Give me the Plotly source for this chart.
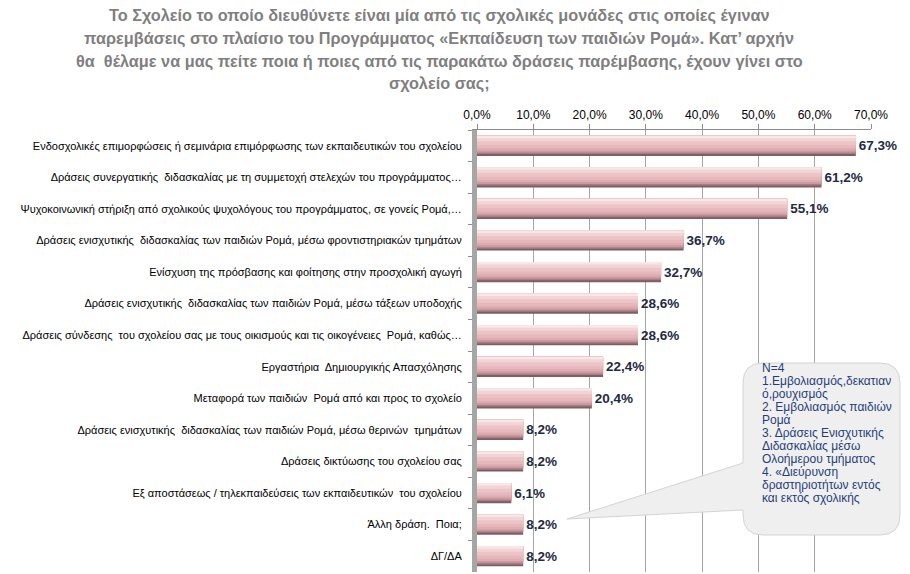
import plotly.graph_objects as go

categories = [
    "Ενδοσχολικές επιμορφώσεις ή σεμινάρια επιμόρφωσης των εκπαιδευτικών του σχολείου",
    "Δράσεις συνεργατικής  διδασκαλίας με τη συμμετοχή στελεχών του προγράμματος…",
    "Ψυχοκοινωνική στήριξη από σχολικούς ψυχολόγους του προγράμματος, σε γονείς Ρομά,…",
    "Δράσεις ενισχυτικής  διδασκαλίας των παιδιών Ρομά, μέσω φροντιστηριακών τμημάτων",
    "Ενίσχυση της πρόσβασης και φοίτησης στην προσχολική αγωγή",
    "Δράσεις ενισχυτικής  διδασκαλίας των παιδιών Ρομά, μέσω τάξεων υποδοχής",
    "Δράσεις σύνδεσης  του σχολείου σας με τους οικισμούς και τις οικογένειες  Ρομά, καθώς…",
    "Εργαστήρια  Δημιουργικής Απασχόλησης",
    "Μεταφορά των παιδιών  Ρομά από και προς το σχολείο",
    "Δράσεις ενισχυτικής  διδασκαλίας των παιδιών Ρομά, μέσω θερινών  τμημάτων",
    "Δράσεις δικτύωσης του σχολείου σας",
    "Εξ αποστάσεως / τηλεκπαιδεύσεις των εκπαιδευτικών  του σχολείου",
    "Άλλη δράση.  Ποια;",
    "ΔΓ/ΔΑ",
]
values = [67.3, 61.2, 55.1, 36.7, 32.7, 28.6, 28.6, 22.4, 20.4, 8.2, 8.2, 6.1, 8.2, 8.2]
tick_values = [0, 10, 20, 30, 40, 50, 60, 70]
tick_labels = [f"{t:.1f}%".replace(".", ",") for t in tick_values]

title_lines = [
    "Το Σχολείο το οποίο διευθύνετε είναι μία από τις σχολικές μονάδες στις οποίες έγιναν",
    "παρεμβάσεις στο πλαίσιο του Προγράμματος «Εκπαίδευση των παιδιών Ρομά». Κατ’ αρχήν",
    "θα  θέλαμε να μας πείτε ποια ή ποιες από τις παρακάτω δράσεις παρέμβασης, έχουν γίνει στο",
    "σχολείο σας;",
]
callout_lines = [
    "N=4",
    "1.Εμβολιασμός,δεκατιαν",
    "ό,ρουχισμός",
    "2. Εμβολιασμός παιδιών",
    "Ρομά",
    "3. Δράσεις Ενισχυτικής",
    "Διδασκαλίας μέσω",
    "Ολοήμερου τμήματος",
    "4. «Διεύρυνση",
    "δραστηριοτήτων εντός",
    "και εκτός σχολικής",
]

labels = ["<b>" + f"{v:.1f}%".replace(".", ",") + "</b>" for v in values]

W, H = 910, 574
ML, MR, MT, MB = 477, 39, 130, 2
PW, PH = W - ML - MR, H - MT - MB


def px(x):
    return (x - ML) / PW


def py(y):
    return (H - MB - y) / PH


fig = go.Figure()
# base (dark bottom shading) carries the labels
fig.add_trace(go.Bar(
    y=categories, x=values, orientation="h", width=0.64,
    marker=dict(color="#7f5d63", line=dict(width=0)),
    text=labels, textposition="outside", cliponaxis=False,
    textfont=dict(family="Liberation Sans", size=13.5, color="#1f2a44"),
    hoverinfo="x+y",
))
# shading layers, top-aligned, lighter towards the top edge
layers = [(0.58, "#a67e84"), (0.53, "#c99aa0"), (0.47, "#ddabb0"),
          (0.40, "#e6b8bc"), (0.30, "#ecc4c7"), (0.18, "#f3d4d6"), (0.08, "#f9e6e7")]
for w, c in layers:
    fig.add_trace(go.Bar(
        y=categories, x=values, orientation="h", width=w, offset=-0.32,
        marker=dict(color=c, line=dict(width=0)), hoverinfo="skip",
    ))

# callout bubble
x0, x1, y0, y1, r = 743, 900, 363, 535, 20
path = (
    f"M {px(x0+r)},{py(y0)} L {px(x1-r)},{py(y0)} "
    f"Q {px(x1)},{py(y0)} {px(x1)},{py(y0+r)} "
    f"L {px(x1)},{py(y1-r)} Q {px(x1)},{py(y1)} {px(x1-r)},{py(y1)} "
    f"L {px(x0+r)},{py(y1)} Q {px(x0)},{py(y1)} {px(x0)},{py(y1-r)} "
    f"L {px(x0)},{py(510)} L {px(567)},{py(519)} L {px(x0)},{py(463)} "
    f"L {px(x0)},{py(y0+r)} Q {px(x0)},{py(y0)} {px(x0+r)},{py(y0)} Z"
)
shapes = [dict(type="path", xref="paper", yref="paper", path=path,
               fillcolor="#efefef", line=dict(color="#d4d4d4", width=1), layer="above")]

annotations = []
for i, line in enumerate(callout_lines):
    annotations.append(dict(
        xref="paper", yref="paper", x=px(760), y=py(368 + 13 * i),
        xanchor="left", yanchor="middle", showarrow=False, text=line,
        font=dict(family="Liberation Sans", size=12, color="#1f3f7a"),
    ))
for i, line in enumerate(title_lines):
    annotations.append(dict(
        xref="paper", yref="paper", x=px(439), y=py(15 + 23 * i),
        xanchor="center", yanchor="middle", showarrow=False,
        text="<b>" + line + "</b>",
        font=dict(family="Liberation Sans", size=16.3, color="#7f7f7f"),
    ))

fig.update_layout(
    width=W, height=H, barmode="overlay", showlegend=False,
    margin=dict(l=ML, r=MR, t=MT, b=MB, pad=0),
    plot_bgcolor="white", paper_bgcolor="white",
    font=dict(family="Liberation Sans", size=11, color="black"),
    shapes=shapes, annotations=annotations,
    xaxis=dict(
        side="top", range=[0, 70], tickvals=tick_values, ticktext=tick_labels,
        showgrid=True, gridcolor="#a6a6a6", gridwidth=1,
        showline=True, linecolor="#8c8c8c", linewidth=1,
        ticks="outside", ticklen=5, tickcolor="#8c8c8c",
        tickfont=dict(size=12, color="black"), zeroline=False, fixedrange=True,
        automargin=False,
    ),
    yaxis=dict(
        autorange="reversed", showline=True, linecolor="#a6a6a6", linewidth=5,
        ticks="outside", ticklen=4, tickcolor="#8c8c8c", tickson="boundaries",
        ticklabelstandoff=8,
        tickfont=dict(size=11, color="black"), fixedrange=True, automargin=False,
    ),
)

fig.write_html("out.html", config={"displayModeBar": False},
               post_script="document.body.style.margin='0';")
